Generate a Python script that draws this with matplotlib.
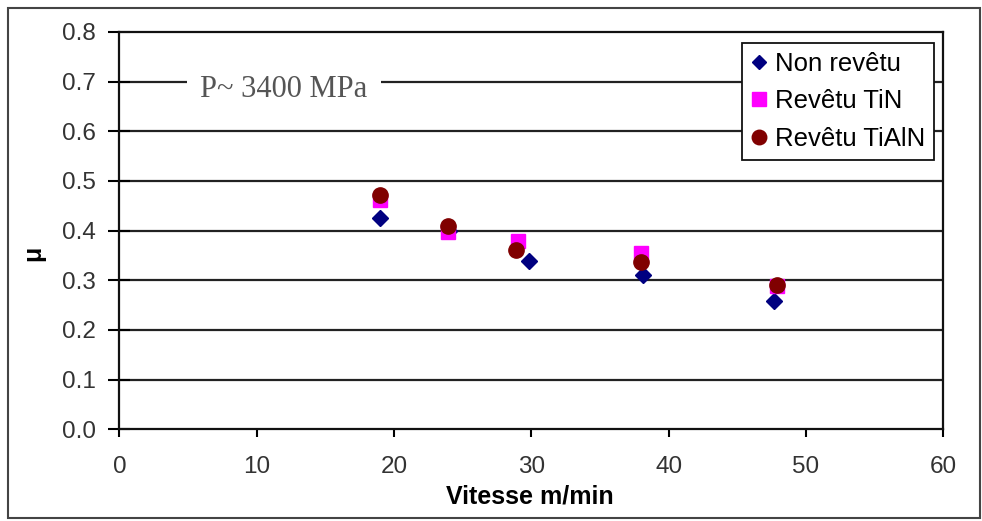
import matplotlib.pyplot as plt
from matplotlib.patches import Rectangle

# --- data ---
x_non = [19.0, 24.0, 29.8, 38.1, 47.7]
y_non = [0.425, 0.40, 0.339, 0.310, 0.259]

x_tin = [19.0, 23.9, 29.0, 38.0, 47.9]
y_tin = [0.461, 0.398, 0.379, 0.354, 0.288]

x_tialn = [19.0, 23.9, 28.9, 38.0, 47.9]
y_tialn = [0.471, 0.409, 0.362, 0.337, 0.290]

x_ticks = [0, 10, 20, 30, 40, 50, 60]
y_ticks = [0.0, 0.1, 0.2, 0.3, 0.4, 0.5, 0.6, 0.7, 0.8]

plt.rcParams['font.family'] = ['Liberation Sans', 'DejaVu Sans']

fig = plt.figure(figsize=(9.82, 5.21), dpi=100)
ax = fig.add_axes([0.1215, 0.176, 0.8391, 0.7626])

# outer chart frame
fig.patches.append(Rectangle((8 / 982, 3 / 521), 972 / 982, 510 / 521,
                             transform=fig.transFigure, fill=False,
                             edgecolor="#444444", linewidth=1.5))

for y in y_ticks[1:-1]:
    ax.axhline(y, color="#222222", linewidth=1.6, zorder=1)

ax.plot(x_non, y_non, linestyle="none", marker="D", markersize=8,
        color="#000080", label="Non revêtu", zorder=3)
ax.plot(x_tin, y_tin, linestyle="none", marker="s", markersize=10,
        color="#FF00FF", label="Revêtu TiN", zorder=4)
ax.plot(x_tialn, y_tialn, linestyle="none", marker="o", markersize=11,
        color="#800000", label="Revêtu TiAlN", zorder=5)

ax.set_xlim(0, 60)
ax.set_ylim(0, 0.8)
ax.set_xticks(x_ticks)
ax.set_yticks(y_ticks)
ax.set_yticklabels([f"{v:.1f}" for v in y_ticks])
ax.tick_params(axis="x", direction="out", length=6, width=1.5,
               labelsize=17.5, labelcolor="#333333", pad=13)
ax.tick_params(axis="y", direction="inout", length=16, width=1.5,
               labelsize=17.5, labelcolor="#333333", pad=9)
for s in ax.spines.values():
    s.set_linewidth(1.6)
    s.set_color("#111111")

ax.set_xlabel("Vitesse m/min", fontsize=18, fontweight="bold")
ax.xaxis.set_label_coords(0.498, -0.138)
ax.set_ylabel("μ", fontsize=18, fontweight="bold")
ax.yaxis.set_label_coords(-0.09, 0.444)

ax.text(12.0, 0.685, "P~ 3400 MPa", family="Liberation Serif", fontsize=22,
        color="#555555", ha="center", va="center", zorder=2,
        bbox=dict(facecolor="white", edgecolor="none", pad=10))

leg = ax.legend(loc="upper right", bbox_to_anchor=(0.9885, 0.9725),
                fontsize=18.5, frameon=True, fancybox=False, borderpad=0.35,
                handletextpad=0.3, handlelength=0.6, labelspacing=0.52,
                borderaxespad=0, markerscale=0.95)
leg.get_frame().set_edgecolor("#111111")
leg.get_frame().set_linewidth(1.3)
leg.get_frame().set_alpha(1)
leg.set_zorder(10)

fig.savefig("out.png", dpi=100)
plt.close(fig)
